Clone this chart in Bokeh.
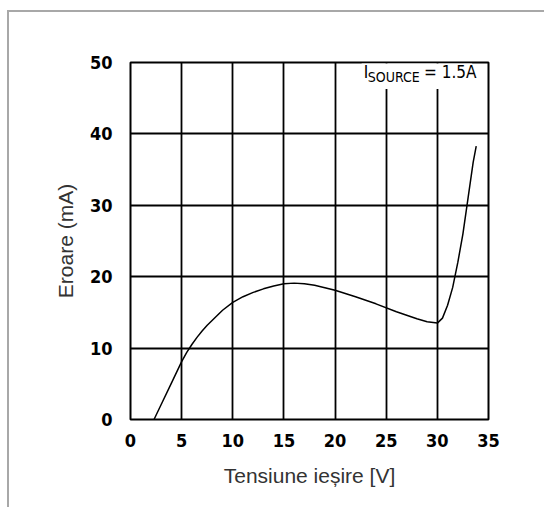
from bokeh.plotting import figure
from bokeh.models import FixedTicker, BoxAnnotation, Label
from bokeh.embed import file_html
from bokeh.resources import INLINE

# data
voltage = [2.3, 3, 4, 5, 5.5, 6, 6.5, 7, 7.5, 8, 9, 10, 11, 12, 13, 14, 15, 16, 17, 18,
           20, 22, 24, 26, 28, 29, 30, 30.5, 31, 31.5, 32, 32.5, 33, 33.5, 33.8]
error_ma = [0, 2.1, 5.1, 8.1, 9.4, 10.5, 11.5, 12.4, 13.2, 13.9, 15.3, 16.4, 17.2, 17.8,
            18.3, 18.7, 19.0, 19.1, 19.0, 18.8, 18.1, 17.2, 16.2, 15.1, 14.1, 13.7, 13.5,
            14.2, 16.0, 18.5, 22.0, 26.0, 31.0, 36.0, 38.3]
x_ticks = [0, 5, 10, 15, 20, 25, 30, 35]
y_ticks = [0, 10, 20, 30, 40, 50]

BOLD_NARROW = "'Liberation Sans Narrow', 'DejaVu Sans Condensed', sans-serif"
NARROW = "'Liberation Sans Narrow', 'DejaVu Sans Condensed', sans-serif"

p = figure(width=537, height=497, x_range=(0, 35), y_range=(0, 50),
           output_backend="svg", toolbar_location=None,
           min_border_left=121, min_border_right=58, min_border_top=50, min_border_bottom=90)
p.styles = {"border-top": "2px solid #a8a8a8", "border-left": "2px solid #a8a8a8",
            "margin-top": "10px", "margin-left": "7px"}

p.background_fill_color = "white"
p.border_fill_color = "white"
p.outline_line_color = "black"
p.outline_line_width = 2

p.xaxis.ticker = FixedTicker(ticks=x_ticks)
p.yaxis.ticker = FixedTicker(ticks=y_ticks)
for ax in (p.xaxis[0], p.yaxis[0]):
    ax.axis_line_color = None
    ax.major_tick_line_color = None
    ax.minor_tick_line_color = None
    ax.major_tick_out = 0
    ax.major_tick_in = 0
    ax.minor_tick_out = 0
    ax.minor_tick_in = 0
    ax.major_label_text_font = BOLD_NARROW
    ax.major_label_text_font_style = "bold"
    ax.major_label_text_font_size = "18px"
    ax.major_label_text_color = "black"
    ax.axis_label_text_font = "Liberation Sans"
    ax.axis_label_text_font_style = "normal"
    ax.axis_label_text_font_size = "21px"
    ax.axis_label_text_color = "#333333"

p.xaxis.axis_label = "Tensiune ieșire [V]"
p.yaxis.axis_label = "Eroare (mA)"
p.xaxis.major_label_standoff = 14
p.yaxis.major_label_standoff = 18
p.xaxis.axis_label_standoff = 14
p.yaxis.axis_label_standoff = 10

p.xgrid.grid_line_color = "black"
p.ygrid.grid_line_color = "black"
p.xgrid.grid_line_width = 1.8
p.ygrid.grid_line_width = 1.8
p.xgrid.grid_line_alpha = 1
p.ygrid.grid_line_alpha = 1

p.line(voltage, error_ma, line_color="black", line_width=1.5)

box = BoxAnnotation(left=22.6, right=33.4, bottom=46.3, top=49.85,
                    fill_color="white", fill_alpha=1, line_color=None)
p.add_layout(box)

p.add_layout(Label(x=22.8, y=47.2, text="I", text_font=NARROW,
                   text_font_size="17px", text_color="black"))
p.add_layout(Label(x=23.2, y=46.85, text="SOURCE", text_font=NARROW,
                   text_font_size="14px", text_color="black"))
p.add_layout(Label(x=28.7, y=47.2, text="= 1.5A", text_font=NARROW,
                   text_font_size="17px", text_color="black"))

open("out.html", "w").write(file_html(p, INLINE))
